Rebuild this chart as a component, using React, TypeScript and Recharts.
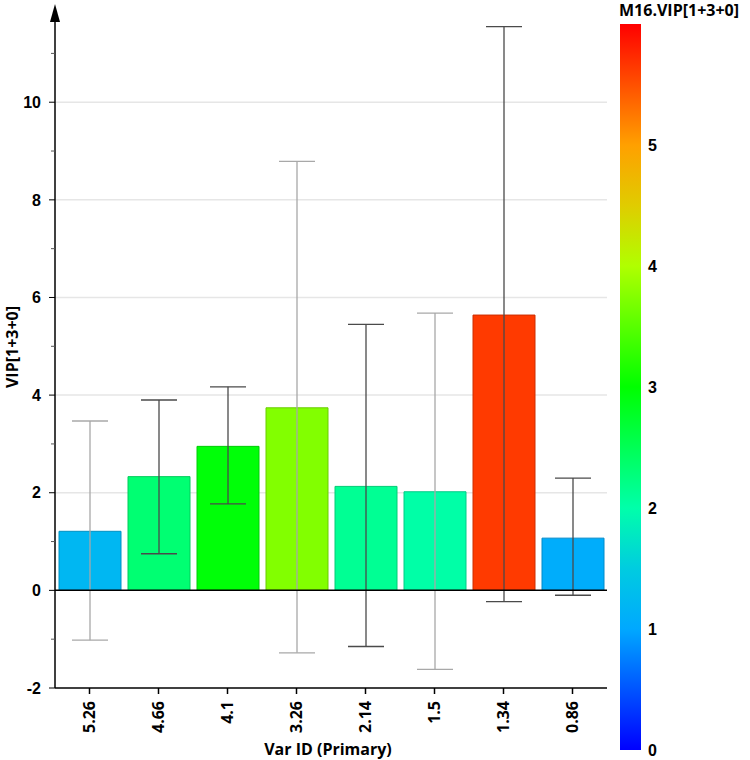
import React from 'react';
import { ComposedChart, Bar, Cell, XAxis, YAxis, ErrorBar, CartesianGrid, ReferenceLine } from 'recharts';

// Var IDs along the x axis, VIP values and their confidence limits
const varIds = ['5.26', '4.66', '4.1', '3.26', '2.14', '1.5', '1.34', '0.86'];
const vipValues = [1.21, 2.33, 2.95, 3.74, 2.13, 2.02, 5.64, 1.07];
const ciLow = [-1.02, 0.75, 1.77, -1.28, -1.15, -1.62, -0.23, -0.1];
const ciHigh = [3.47, 3.9, 4.17, 8.79, 5.45, 5.68, 11.55, 2.3];
const fadedErr = ['5.26', '3.26', '1.5'];

const yTicks = [-2, -1, 0, 1, 2, 3, 4, 5, 6, 7, 8, 9, 10, 11];
const gridValues = [2, 4, 6, 8, 10];
const colorTicks = [0, 1, 2, 3, 4, 5];
const colorMax = 6;

// colour scale of the VIP legend
const cmapStops: [number, string][] = [
  [0, '#0000ff'],
  [1, '#00a8ff'],
  [1.5, '#00cce0'],
  [2, '#00ffaa'],
  [3, '#00ff00'],
  [4, '#b0ff00'],
  [4.5, '#e0cc00'],
  [5, '#ffa000'],
  [6, '#ff0000'],
];

const hex = (c: string) => [1, 3, 5].map((i) => parseInt(c.slice(i, i + 2), 16));
const toHex = (rgb: number[]) => '#' + rgb.map((v) => Math.round(v).toString(16).padStart(2, '0')).join('');

const cmap = (v: number) => {
  for (let i = 0; i < cmapStops.length - 1; i++) {
    const [a, ca] = cmapStops[i];
    const [b, cb] = cmapStops[i + 1];
    if (v <= b) {
      const t = Math.max(0, (v - a) / (b - a));
      const A = hex(ca);
      const B = hex(cb);
      return toHex(A.map((x, k) => x + (B[k] - x) * t));
    }
  }
  return cmapStops[cmapStops.length - 1][1];
};
const darker = (c: string) => toHex(hex(c).map((x) => x * 0.8));

const data = varIds.map((id, i) => {
  const err = [vipValues[i] - ciLow[i], ciHigh[i] - vipValues[i]];
  const faded = fadedErr.includes(id);
  return {
    id,
    vip: vipValues[i],
    errDark: faded ? null : err,
    errLight: faded ? err : null,
  };
});

const YTick = (props: any) => {
  const { x, y, payload } = props;
  const major = payload.value % 2 === 0;
  return (
    <g>
      <line x1={x - (major ? 6 : 4)} x2={x} y1={y} y2={y} stroke={major ? '#000' : '#555'} strokeWidth={1} />
      {major && (
        <text x={x - 14} y={y} dy="0.36em" textAnchor="end" fontFamily="Liberation Sans, Arial, sans-serif" fontWeight="bold" fontSize={16} fill="#000">
          {payload.value}
        </text>
      )}
    </g>
  );
};

const XTick = (props: any) => {
  const { x, y, payload } = props;
  return (
    <g>
      <line x1={x} x2={x} y1={y} y2={y + 6} stroke="#000" strokeWidth={1.5} />
      <g transform={`translate(${x},${y + 13}) rotate(-90)`}>
        <text x={0} y={0} dy="0.36em" textAnchor="end" fontFamily="Open Sans, sans-serif" fontWeight="bold" fontSize={16} fill="#000">
          {payload.value}
        </text>
      </g>
    </g>
  );
};

const barTop = 24;
const barBottom = 750;

export default function App() {
  const gradStops = cmapStops
    .map(([v, c]) => ({ offset: (colorMax - v) / colorMax, c }))
    .sort((a, b) => a.offset - b.offset);
  return (
    <div style={{ position: 'absolute', left: 0, top: 0, width: 750, height: 760, background: '#fff' }}>
      <ComposedChart width={750} height={760} data={data} margin={{ top: 8, right: 143, bottom: 0, left: 0 }} barSize={62}>
        <CartesianGrid vertical={false} horizontalValues={gridValues} stroke="#e6e6e6" strokeWidth={1.5} />
        <XAxis
          dataKey="id"
          height={72}
          interval={0}
          tickLine={false}
          tickSize={0}
          tickMargin={0}
          axisLine={{ stroke: '#000', strokeWidth: 1.5 }}
          tick={<XTick />}
        />
        <YAxis
          width={55}
          type="number"
          domain={[-2, 11.93]}
          allowDataOverflow
          ticks={yTicks}
          interval={0}
          tickLine={false}
          tickSize={0}
          tickMargin={0}
          axisLine={{ stroke: '#000', strokeWidth: 1.5 }}
          tick={<YTick />}
        />
        <Bar dataKey="vip" isAnimationActive={false}>
          {data.map((d) => {
            const c = cmap(d.vip);
            return <Cell key={d.id} fill={c} stroke={darker(c)} strokeWidth={1} />;
          })}
          <ErrorBar dataKey="errDark" width={18} stroke="#4a4a4a" strokeWidth={1.3} direction="y" isAnimationActive={false} />
          <ErrorBar dataKey="errLight" width={18} stroke="#a8a8a8" strokeWidth={1.3} direction="y" isAnimationActive={false} />
        </Bar>
        <ReferenceLine y={0} stroke="#000" strokeWidth={1.5} />
      </ComposedChart>
      <svg width={750} height={760} style={{ position: 'absolute', left: 0, top: 0, pointerEvents: 'none' }}>
        <defs>
          <linearGradient id="vipGrad" x1="0" y1="0" x2="0" y2="1">
            {gradStops.map((s, i) => (
              <stop key={i} offset={s.offset} stopColor={s.c} />
            ))}
          </linearGradient>
        </defs>
        <polygon points="55,4 50,22 60,22" fill="#000" />
        <text x={619} y={16} fontFamily="Open Sans, sans-serif" fontWeight="bold" fontSize={16} fill="#000">
          M16.VIP[1+3+0]
        </text>
        <rect x={620} y={barTop} width={21} height={barBottom - barTop} fill="url(#vipGrad)" />
        {colorTicks.map((t) => {
          const y = barBottom - ((barBottom - barTop) * t) / colorMax;
          return (
            <text key={t} x={648} y={y} dy="0.36em" fontFamily="Liberation Sans, Arial, sans-serif" fontWeight="bold" fontSize={16} fill="#000">
              {t}
            </text>
          );
        })}
        <text x={328} y={755} textAnchor="middle" fontFamily="Open Sans, sans-serif" fontWeight="bold" fontSize={16} fill="#000">
          Var ID (Primary)
        </text>
        <text transform="translate(18,347) rotate(-90)" textAnchor="middle" fontFamily="Open Sans, sans-serif" fontWeight="bold" fontSize={16} fill="#000">
          VIP[1+3+0]
        </text>
      </svg>
    </div>
  );
}
